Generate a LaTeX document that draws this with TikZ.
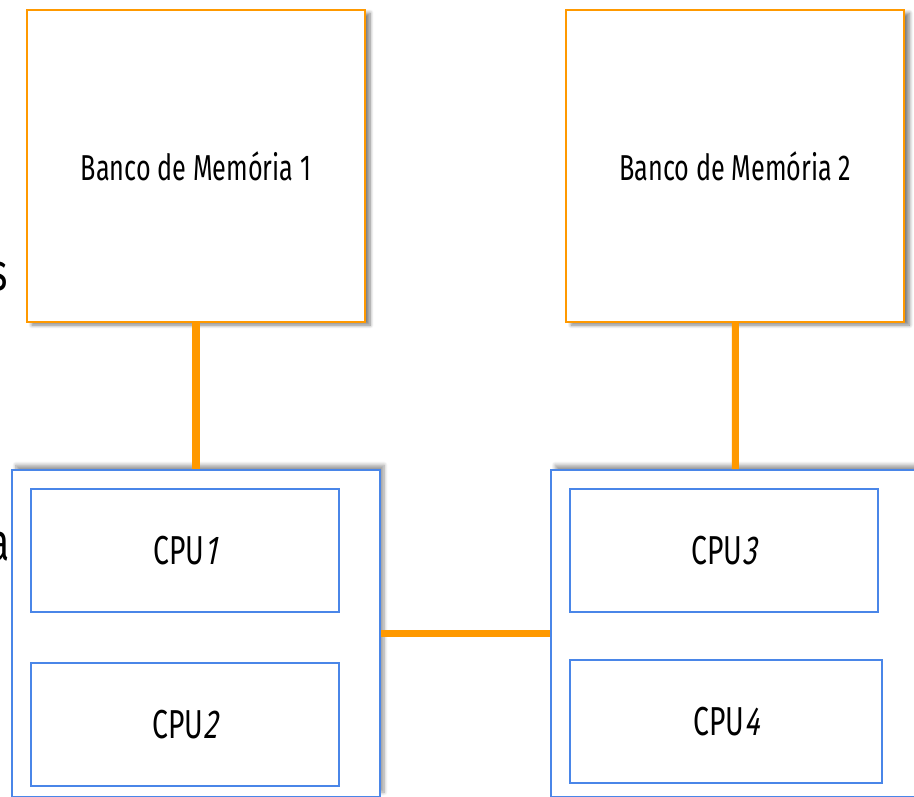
\documentclass[tikz,border=0pt]{standalone}
\usepackage{fontspec}
\setmainfont{Fira Sans}[FakeStretch=0.7, ItalicFont=Fira Sans, ItalicFeatures={FakeSlant=0.2}]
\usetikzlibrary{positioning,shadows.blur}
\definecolor{memorange}{RGB}{255,153,0}
\definecolor{cpublue}{RGB}{74,134,232}

\begin{document}
\begin{tikzpicture}[auto, node distance=1,
    membox/.style={draw=memorange, line width=1.3pt, fill=white, minimum width=6.76cm, minimum height=6.24cm,
      font=\fontsize{20.5}{24}\selectfont,
      blur shadow={shadow xshift=.1cm, shadow yshift=-.06cm, shadow blur steps=8, shadow opacity=50}},
    cpuframe/.style={draw=cpublue, line width=1pt, fill=white, minimum width=7.36cm, minimum height=6.54cm,
      blur shadow={shadow xshift=.08cm, shadow yshift=.1cm, shadow blur steps=8, shadow opacity=40}},
    cpubox/.style={draw=cpublue, line width=1pt, fill=white, minimum width=6.16cm, minimum height=2.46cm,
      font=\fontsize{23}{27}\selectfont},
    link/.style={draw=memorange, line width=4pt}]
    \useasboundingbox (0,0) rectangle (18.28,-15.92);
    \clip (0,0) rectangle (18.28,-15.92);

    % leftover text at the left border
    \node (fragS) [anchor=base east, inner sep=0pt, font=\fontsize{30}{36}\selectfont] at (0.16,-5.8) {s};
    \node (fragA) [anchor=base east, inner sep=0pt, font=\fontsize{30}{36}\selectfont] at (0.2,-11.2) {a};

    % memory banks
    \node (mem1) [membox] at (3.92,-3.32) {Banco de Memória 1};
    \node (mem2) [membox, right=3.98cm of mem1] {Banco de Memória 2};

    % processor sockets
    \node (outer1) [cpuframe, below=2.92cm of mem1] {};
    \node (outer2) [cpuframe, right=3.39cm of outer1] {};

    \node (cpu1) [cpubox, below right=0.38cm and 0.38cm of outer1.north west] {CPU\textit{1}};
    \node (cpu2) [cpubox, below=0.98cm of cpu1.south west, anchor=north west] {CPU\textit{2}};
    \node (cpu3) [cpubox, below right=0.38cm and 0.38cm of outer2.north west] {CPU\textit{3}};
    \node (cpu4) [cpubox, minimum width=6.24cm, below=0.92cm of cpu3.south west, anchor=north west] {CPU\textit{4}};

    % buses
    \draw[link] (mem1) -- (outer1);
    \draw[link] (mem2) -- (outer2);
    \draw[link] (outer1) -- (outer2);
\end{tikzpicture}
\end{document}
